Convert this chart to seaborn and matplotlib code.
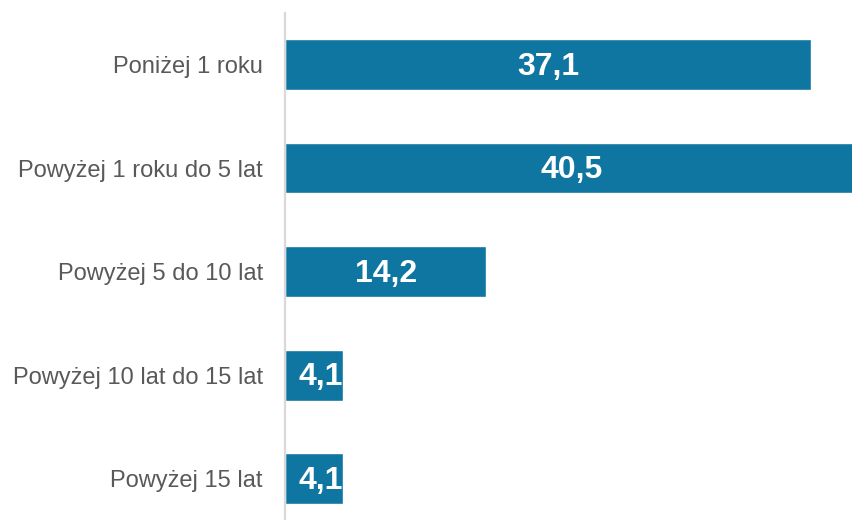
import matplotlib
matplotlib.use("Agg")
import matplotlib.pyplot as plt
import seaborn as sns
import pandas as pd

categories = [
    "Poniżej 1 roku",
    "Powyżej 1 roku do 5 lat",
    "Powyżej 5 do 10 lat",
    "Powyżej 10 lat do 15 lat",
    "Powyżej 15 lat",
]
values = [37.1, 40.5, 14.2, 4.1, 4.1]
value_labels = ["37,1", "40,5", "14,2", "4,1", "4,1"]

sns.set_theme(style="white")
plt.rcParams["font.family"] = ["Liberation Sans", "DejaVu Sans"]

df = pd.DataFrame({"okres": categories, "udzial": values})

fig = plt.figure(figsize=(8.52, 5.20), dpi=100)
ax = fig.add_axes([285 / 852, 0.0, (852 - 285) / 852, (520 - 12.7) / 520])

sns.barplot(data=df, y="okres", x="udzial", orient="h", color="#0E76A0",
            width=0.49, saturation=1, ax=ax)

ax.set_xlim(0, 40.0)
ax.set_ylim(4.397, -0.5)
ax.set_xlabel("")
ax.set_ylabel("")
ax.set_xticks([])

for s in ["top", "right", "bottom"]:
    ax.spines[s].set_visible(False)
ax.spines["left"].set_color("#d9d9d9")
ax.spines["left"].set_linewidth(1.6)

ax.tick_params(axis="y", length=0, pad=16, labelsize=17, labelcolor="#595959")

for i, (v, lab) in enumerate(zip(values, value_labels)):
    if v < 6:
        ax.text(v - 0.05, i + 0.02, lab, ha="right", va="center", color="white",
                fontsize=23, fontweight="bold")
    else:
        ax.text(v / 2, i + 0.02, lab, ha="center", va="center", color="white",
                fontsize=23, fontweight="bold")

fig.savefig("out.png", dpi=100)
